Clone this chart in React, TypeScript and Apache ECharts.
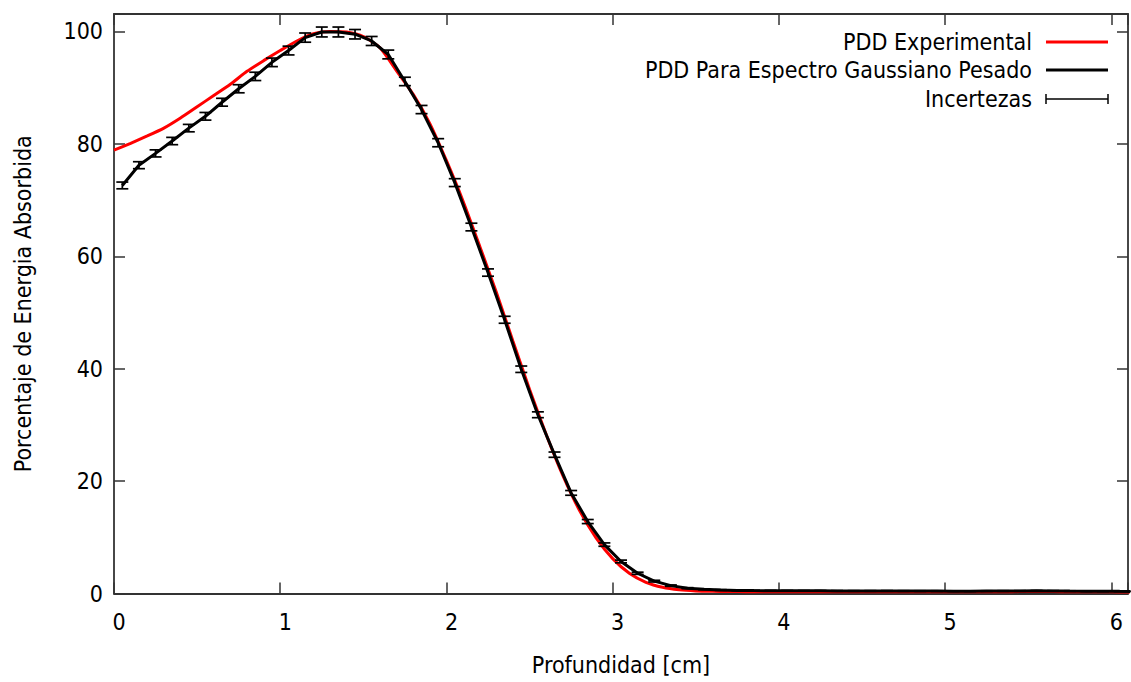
import React, { useEffect, useRef } from "react";
import * as echarts from "echarts";

// Depth (cm) for the experimental curve
const expDepth = [
  0.0, 0.1, 0.2, 0.3, 0.4, 0.5, 0.6, 0.7, 0.8, 0.9,
  1.0, 1.1, 1.2, 1.3, 1.4, 1.5, 1.6, 1.7, 1.8, 1.9,
  2.0, 2.1, 2.2, 2.3, 2.4, 2.5, 2.6, 2.7, 2.8, 2.9,
  3.0, 3.1, 3.2, 3.3, 3.4, 3.5, 3.6, 3.7, 3.8, 3.9,
  4.0, 4.1, 4.2, 4.3, 4.4, 4.5, 4.6, 4.7, 4.8, 4.9,
  5.0, 5.1, 5.2, 5.3, 5.4, 5.5, 5.6, 5.7, 5.8, 5.9,
  6.0, 6.1, 6.2,
];
// PDD Experimental (%)
const expPdd = [
  78.9, 80.1, 81.4, 82.8, 84.6, 86.6, 88.6, 90.6, 92.9, 94.8,
  96.6, 98.3, 99.6, 100.0, 99.9, 99.1, 97.1, 93.0, 88.8, 83.6,
  77.0, 69.8, 61.8, 53.6, 44.9, 36.3, 28.3, 21.0, 14.8, 9.9,
  6.2, 3.6, 2.0, 1.1, 0.65, 0.45, 0.38, 0.35, 0.33, 0.32,
  0.32, 0.31, 0.31, 0.3, 0.3, 0.3, 0.31, 0.31, 0.3, 0.3,
  0.3, 0.3, 0.31, 0.32, 0.33, 0.34, 0.35, 0.33, 0.31, 0.3,
  0.29, 0.28, 0.28,
];

// Depth (cm) for the simulated (Gaussian weighted spectrum) curve
const simDepth = [
  0.05, 0.15, 0.25, 0.35, 0.45, 0.55, 0.65, 0.75, 0.85, 0.95,
  1.05, 1.15, 1.25, 1.35, 1.45, 1.55, 1.65, 1.75, 1.85, 1.95,
  2.05, 2.15, 2.25, 2.35, 2.45, 2.55, 2.65, 2.75, 2.85, 2.95,
  3.05, 3.15, 3.25, 3.35, 3.45, 3.55, 3.65, 3.75, 3.85, 3.95,
  4.05, 4.15, 4.25, 4.35, 4.45, 4.55, 4.65, 4.75, 4.85, 4.95,
  5.05, 5.15, 5.25, 5.35, 5.45, 5.55, 5.65, 5.75, 5.85, 5.95,
  6.05, 6.15,
];
// PDD Para Espectro Gaussiano Pesado (%)
const simPdd = [
  72.6, 76.2, 78.3, 80.5, 82.8, 84.9, 87.4, 89.8, 92.0, 94.5,
  96.6, 98.9, 99.9, 99.9, 99.5, 98.3, 95.9, 91.1, 86.1, 80.2,
  73.1, 65.2, 57.1, 48.7, 39.9, 31.8, 24.7, 17.9, 12.8, 8.7,
  5.7, 3.6, 2.2, 1.4, 0.95, 0.75, 0.62, 0.55, 0.52, 0.5,
  0.48, 0.47, 0.47, 0.46, 0.45, 0.45, 0.46, 0.44, 0.43, 0.43,
  0.42, 0.42, 0.43, 0.44, 0.45, 0.47, 0.46, 0.43, 0.41, 0.4,
  0.38, 0.37,
];
// Incertezas (±%)
const simErr = [
  0.6, 0.62, 0.63, 0.65, 0.66, 0.68, 0.7, 0.72, 0.74, 0.76,
  0.78, 0.82, 0.88, 0.88, 0.84, 0.8, 0.78, 0.75, 0.73, 0.72,
  0.7, 0.68, 0.65, 0.62, 0.57, 0.52, 0.47, 0.42, 0.36, 0.3,
  0.24, 0.19, 0.15, 0.12, 0.09, 0.08, 0.07, 0.06, 0.05, 0.05,
  0.05, 0.05, 0.05, 0.05, 0.05, 0.05, 0.05, 0.05, 0.05, 0.05,
  0.05, 0.05, 0.05, 0.05, 0.05, 0.05, 0.05, 0.05, 0.05, 0.05,
  0.05, 0.05,
];

const yTicks = [0, 20, 40, 60, 80, 100];
const xTicks = [0, 1, 2, 3, 4, 5, 6];

const legendNames = [
  "PDD Experimental",
  "PDD Para Espectro Gaussiano Pesado",
  "Incertezas",
];

const FONT = '"DejaVu Sans Condensed", "DejaVu Sans", sans-serif';
const FS = 23;
const FRAME = "#333";

export default function App() {
  const ref = useRef<HTMLDivElement>(null);

  useEffect(() => {
    if (!ref.current) return;
    const chart = echarts.init(ref.current, undefined, { renderer: "svg" });

    const xMin = 0;
    const xMax = 6.1;
    const yMin = 0;
    const yMax = 103.1;

    const tickCommon = {
      show: true,
      inside: true,
      length: 11,
      lineStyle: { color: FRAME, width: 1.5 },
    };
    const lineCommon = {
      show: true,
      onZero: false,
      lineStyle: { color: FRAME, width: 1.8 },
    };

    const xLabel = (v: number) => (xTicks.indexOf(v) >= 0 ? String(v) : "");
    const yLabel = (v: number) => (yTicks.indexOf(v) >= 0 ? String(v) : "");

    const legendY = [42, 70, 99];
    const legendTextX = 1032;
    const lx1 = 1046;
    const lx2 = 1108;

    const option: any = {
      animation: false,
      backgroundColor: "#fff",
      grid: { left: 114, right: -2, top: 14, bottom: 88.5, containLabel: false },
      xAxis: [
        {
          type: "value",
          min: xMin,
          max: xMax,
          interval: 1,
          position: "bottom",
          axisLine: lineCommon,
          axisTick: tickCommon,
          splitLine: { show: false },
          axisLabel: {
            formatter: xLabel,
            fontFamily: FONT,
            fontSize: FS,
            color: "#000",
            margin: 17,
            padding: [0, 0, 0, 10],
          },
          name: "Profundidad [cm]",
          nameLocation: "middle",
          nameGap: 60,
          nameTextStyle: { fontFamily: FONT, fontSize: FS, color: "#000" },
        },
        {
          type: "value",
          min: xMin,
          max: xMax,
          interval: 1,
          position: "top",
          axisLine: lineCommon,
          axisTick: tickCommon,
          splitLine: { show: false },
          axisLabel: { show: false },
        },
      ],
      yAxis: [
        {
          type: "value",
          min: yMin,
          max: yMax,
          interval: 20,
          position: "left",
          axisLine: lineCommon,
          axisTick: tickCommon,
          splitLine: { show: false },
          axisLabel: {
            formatter: yLabel,
            fontFamily: FONT,
            fontSize: FS,
            color: "#000",
            margin: 11,
          },
          name: "Porcentaje de Energia Absorbida",
          nameLocation: "middle",
          nameGap: 80,
          nameTextStyle: { fontFamily: FONT, fontSize: FS, color: "#000" },
        },
        {
          type: "value",
          min: yMin,
          max: yMax,
          interval: 20,
          position: "right",
          axisLine: lineCommon,
          axisTick: tickCommon,
          splitLine: { show: false },
          axisLabel: { show: false },
        },
      ],
      series: [
        {
          name: legendNames[0],
          type: "line",
          xAxisIndex: 0,
          yAxisIndex: 0,
          data: expDepth.map((d, i) => [d, expPdd[i]]),
          showSymbol: false,
          smooth: 0.2,
          lineStyle: { color: "#ff0000", width: 3 },
          z: 2,
        },
        {
          name: legendNames[1],
          type: "line",
          xAxisIndex: 0,
          yAxisIndex: 0,
          data: simDepth.map((d, i) => [d, simPdd[i]]),
          showSymbol: false,
          lineStyle: { color: "#000", width: 3 },
          z: 3,
        },
        {
          name: legendNames[2],
          type: "custom",
          xAxisIndex: 0,
          yAxisIndex: 0,
          data: simDepth.map((d, i) => [d, simPdd[i], simErr[i]]),
          encode: { x: 0, y: 1 },
          z: 4,
          renderItem: (params: any, api: any) => {
            const x = api.value(0);
            const y = api.value(1);
            const e = api.value(2);
            const lo = api.coord([x, y - e]);
            const hi = api.coord([x, y + e]);
            const w = 6;
            const st = { stroke: "#000", lineWidth: 1.7 };
            return {
              type: "group",
              children: [
                { type: "line", shape: { x1: lo[0], y1: lo[1], x2: hi[0], y2: hi[1] }, style: st },
                { type: "line", shape: { x1: lo[0] - w, y1: lo[1], x2: lo[0] + w, y2: lo[1] }, style: st },
                { type: "line", shape: { x1: hi[0] - w, y1: hi[1], x2: hi[0] + w, y2: hi[1] }, style: st },
              ],
            };
          },
        },
      ],
      graphic: [
        ...legendNames.map((t, i) => ({
          type: "text",
          x: legendTextX,
          y: legendY[i],
          style: {
            text: t,
            font: `${FS}px ${FONT}`,
            fill: "#000",
            align: "right",
            verticalAlign: "middle",
          },
          z: 10,
        })),
        {
          type: "line",
          shape: { x1: lx1, y1: legendY[0], x2: lx2, y2: legendY[0] },
          style: { stroke: "#ff0000", lineWidth: 3 },
          z: 10,
        },
        {
          type: "line",
          shape: { x1: lx1, y1: legendY[1], x2: lx2, y2: legendY[1] },
          style: { stroke: "#000", lineWidth: 3 },
          z: 10,
        },
        {
          type: "line",
          shape: { x1: lx1, y1: legendY[2], x2: lx2, y2: legendY[2] },
          style: { stroke: "#000", lineWidth: 1.5 },
          z: 10,
        },
        {
          type: "line",
          shape: { x1: lx1, y1: legendY[2] - 5, x2: lx1, y2: legendY[2] + 5 },
          style: { stroke: "#000", lineWidth: 1.5 },
          z: 10,
        },
        {
          type: "line",
          shape: { x1: lx2, y1: legendY[2] - 5, x2: lx2, y2: legendY[2] + 5 },
          style: { stroke: "#000", lineWidth: 1.5 },
          z: 10,
        },
      ],
    };

    chart.setOption(option);
    return () => chart.dispose();
  }, []);

  return (
    <div
      ref={ref}
      style={{ position: "fixed", left: 0, top: 0, width: 1131, height: 682, background: "#fff" }}
    />
  );
}
